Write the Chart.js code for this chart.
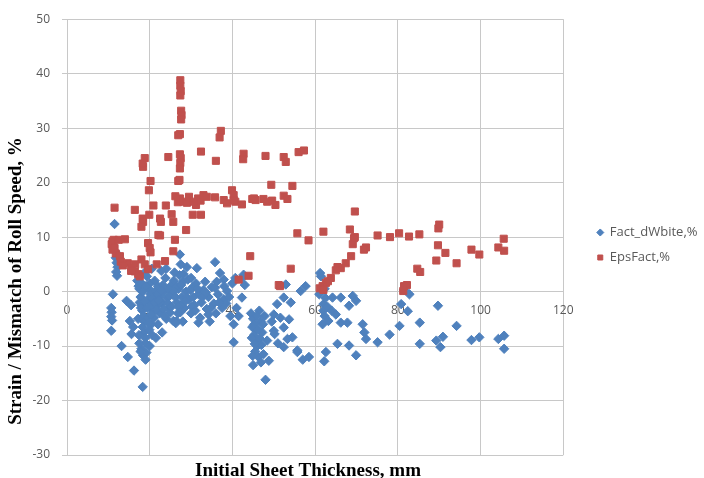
<!DOCTYPE html>
<html>
<head>
<meta charset="utf-8">
<script src="https://cdn.jsdelivr.net/npm/chart.js@4"></script>
<style>
html, body { margin: 0; padding: 0; background: #fff; }
</style>
</head>
<body>
<canvas id="myChart" width="704" height="478"></canvas>
<script>
// ticks
const xTicks = [0, 20, 40, 60, 80, 100, 120];
const yTicks = [-30, -20, -10, 0, 10, 20, 30, 40, 50];

const tituloX = 'Initial Sheet Thickness, mm';
const tituloY = 'Strain / Mismatch of Roll Speed, %';

// Fact_dWbite,%  [thickness, value]
const factPts = [
    [11.5,12.4],[11.8,7.2],[11.8,6.2],[12,5.3],[12.2,4.5],[11.9,3.6],[12.1,2.9],[11.1,-0.5],
    [10.7,-3],[10.8,-3.8],[10.7,-4.6],[10.9,-5.3],[10.7,-7.2],[13.2,-10],[14.7,-12],[16.2,-14.5],[18.3,-17.5],
    [14.4,-1.7],[15.2,-5.4],[15.6,-7.8],[16,-6.5],[15.5,-2.5],
    [17,2],[17.5,0.5],[17.8,-1],[18,-2.5],[18.2,-3.5],[18.5,-4.5],[18.7,-5.5],[18.3,-6.5],[18.6,-7.5],[18.9,-8.5],
    [19,-9.5],[18,-10.5],[18.4,-11.7],[19.2,-11.2],[17.8,-11],
    [19.5,-1.5],[19.8,0.5],[20,1.5],[20.2,-0.5],[20.5,-2.2],[20.8,-3.5],[19.6,-4.8],[20.4,-6],[19.9,-7],[20.6,-8],
    [17.2,-5],[17.4,-8],[19.3,2.8],[18.8,3.5],
    [21,-1],[21.5,0.2],[21.2,2],[22,1],[22.5,-0.8],[21.8,-2.5],[22.4,-4],[23,-2],[23.5,0],[23.8,2.5],[24.2,-1.2],
    [24.6,-3],[24.9,-3.9],[25,1],[25.5,-0.5],[25.7,-5.4],[26.5,-5.4],[26.3,-5.8],[26.5,-2],[27,0.5],
    [27.3,6.8],[27.5,5],[27.2,3],[27.8,-1],[28,1.8],[28.4,-3],[28.8,0],[29,-1.1],[29.2,2.2],[29.5,-1.5],[30,-4],
    [30.4,0.8],[30.8,-2.5],[31.4,4.3],[31.2,1.5],[31.8,-0.5],[31.8,-5.7],[32.2,-4.8],[32.5,-2],[33,0.3],[33.4,1.8],
    [33.8,-3.2],[34.2,-4.2],[34.2,-1],[34.5,-5.5],[35,0.8],[35.8,5.4],[35.8,0.7],[35.5,-2.2],[36,-4],[36.5,-0.5],
    [37,3.4],[37.5,-3],[37.9,2.2],[37.9,-1.4],[38.5,-2.2],[38.7,0.1],[39.5,-4.5],[40,1.5],[40.3,-6],[40.3,-9.3],
    [40.7,2.5],[41,-3],[41.5,-4.5],[42.3,-1.1],[42.3,2.5],[42.7,3.1],[43,1.2],
    [26,3.5],[24,4.2],[22.8,3.8],[20.5,4.2],[29,4.5],[28,-5.5],[26.8,-4],[24,-5],[22,-6],[23,-7.5],[21.5,-8.5],
    [22.5,-2],[23.2,1.2],[25.8,2],[26.6,1],[28.2,3.2],[30,2.5],[30.5,-1],[27.5,-2.5],[24.5,0.5],[21,-4.8],[20,-10],
    [19,-12.5],[17.5,-9.5],
    [17.3,1],[17.6,-2],[17.9,-3],[18.1,1.5],[18.4,0],[18.8,-1.8],[19.1,1],[19.4,-3],[19.7,-5.8],[20.3,-4.2],
    [20.7,-1.2],[21.3,-2],[21.6,-3.3],[21.9,-0.5],[22.2,-1.6],[22.8,0.2],[23.3,-3.2],[23.6,-4.5],[24.4,-2.2],
    [24.8,-0.8],[25.2,-2.8],[25.9,0],[26.2,-1],[26.9,-2.8],[27.4,-3.8],[27.6,1.2],[28.6,-1.8],[29.8,0.3],
    [30.2,-2.8],[31,-3.5],[31.6,0.5],[32.8,-1],[33.6,-0.2],[34.8,-3],[36.2,1.8],[36.8,-2],[39.2,-1],[38,1],
    [44.5,-4],[45,-5],[45.3,-6],[45.6,-7],[45.2,-8],[45.8,-9],[46,-10],[45.5,-11],[46.3,-12],[45,-13.5],[46.8,-5.5],
    [47.2,-7.5],[47,-9.8],[47.5,-11.5],[44.8,-6.5],[48,-16.2],[48.4,-9],[48.8,-12.7],[46.5,-3.5],[47.8,-4.5],
    [44.7,-8.5],[45.9,-4.5],[46.2,-7],[46.6,-8.6],[47.4,-6],[44.9,-11.8],[46.9,-13],[45.4,-9.6],
    [50,-7.2],[51.6,-4.8],[50.8,-2.3],[52.4,-1.1],[52.9,1.3],[54.1,-2],[53.7,-5.1],[54.5,-8.4],[52.4,-10.2],
    [55.7,-11.1],[56.5,0.1],[57.7,1],[61.4,2.8],[61,-0.5],[62,-2.3],[62,-3.5],[62.3,-4.5],[61.8,-6],[62.6,-11.1],
    [50,-4.2],[49.5,-5.5],[50.2,-7.8],[52.4,-6.6],[53.3,-8.7],[55.7,-10.8],[58.5,-12],[57,-12.5],[62.2,-12.8],[51,-9.5],
    [61.2,3.4],[62.3,0.5],[62.5,-1.2],[63,-2.8],[63.2,-5.4],[64.2,-1.1],[66.2,-1.1],[69.1,-0.8],[69.9,-1.7],
    [68.2,-2.6],[66.2,-5.7],[67.8,-5.7],[71.5,-6],[71.9,-7.5],[72.3,-8.7],[75.1,-9.3],[78,-7.9],[80.4,-6.3],
    [80.8,-2.3],[82.4,-3.6],[82.8,-0.5],[81.5,0.3],[85.3,-5.7],[85.3,-9.6],[89.7,-2.6],[89.3,-9],[90.9,-8.3],
    [90.3,-10.2],[94.2,-6.3],[97.8,-8.9],[99.7,-8.4],[104.3,-8.7],[105.7,-8.1],[105.7,-10.5],[65.4,-9.6],
    [68.2,-9.9],[69.9,-11.7],[64,-3.5],[65,-4.2]
];

// EpsFact,%  [thickness, value]
const epsPts = [
    [10.8,8.7],[11,7.7],[11.3,9.5],[11.8,7],[11,9.2],[11.5,8],[11.5,15.4],[12.5,9.5],[12.8,6.5],[13,5.5],[14,9.6],
    [14.7,5.2],[15.6,4.3],[16.4,3.7],[17.2,3.2],[17.6,2.8],[18,5.9],[18.8,5],[19.6,4.1],[16.4,15],[16.5,5],
    [15.5,3.8],[13.5,4.8],
    [18.3,13.4],[18.4,12.8],[18,11.9],[19.9,14.1],[20.9,15.8],[19.8,18.6],[20.2,20.3],[18.4,22.9],[18.8,24.5],
    [18.3,23.5],[19.6,8.9],[20,8],[20.2,7.2],[21.7,5],[22.5,10.3],[22.1,10.4],[22.5,13.4],[22.7,12.8],[23.9,15.8],
    [25.3,14.2],[25.7,12.8],[23.7,5.6],[25.7,7.4],[26.1,9.5],[28.8,11.3],[24.5,24.7],
    [27.4,38.8],[27.4,37.8],[27.5,36.8],[27.4,36],[27.6,33.2],[27.7,32.4],[27.6,31.6],[27.3,28.9],[26.9,28.7],
    [27.3,25.2],[27.5,24.5],[27.4,23.6],[27.3,22.6],[26.9,20.3],[27.2,20.5],
    [26.2,17.5],[26.8,16.4],[27.3,17.1],[28.1,16.5],[29,16.3],[29.5,17.4],[30.5,16.5],[31.2,15.9],[31.7,17.1],
    [32.3,16.7],[33,17.7],[33.8,17.4],[30.4,14.1],[32.4,14.1],[35.8,17.3],[37.9,16.8],[38.7,16.2],[39.9,18.6],
    [40.3,17.7],[40.7,16.5],[40.3,16.8],[42.3,16],[44.8,17],[45.2,17.1],[45.6,16.8],[47.5,17],[48.4,16.5],
    [49.6,16.7],[50.4,15.9],[52.4,17.6],[53.3,17],
    [32.4,25.7],[36,24],[37.2,29.5],[36.9,28.3],[42.7,25.3],[42.6,24.3],[48,24.9],[52.4,24.7],[52.9,23.8],
    [56,25.6],[57.3,25.9],[49.4,19.6],[54.5,19.4],
    [55.7,10.7],[58.4,9.4],[62,11],[68.4,11.4],[69.6,14.7],[69.6,10],[69.4,9.8],[69.1,8.7],[72.3,8.1],[71.8,7.7],
    [75.1,10.3],[78.1,10],[80.3,10.7],[82.7,10.1],[85.2,10.5],[89.8,11.6],[90,12.3],[89.7,8.5],[91.5,7.1],
    [94.2,5.2],[97.8,7.7],[99.7,6.8],[104.3,8.1],[105.7,7.5],[105.6,9.7],[89.3,5.7],[84.7,4.2],[85.4,3.6],
    [81.5,1],[82.2,1.2],[81.3,0.1],
    [44.3,6.5],[54.1,4.2],[51.2,1.2],[51.5,1],[41.5,2.2],[43.9,2.9],
    [68.7,6.5],[67.4,5.2],[66.2,4.3],[65.4,4.5],[65,3.9],[63.8,2.5],[63.1,1.9],[62.6,1.6],[61.8,1],[61.1,0.6],[62,0.3]
];

const gris = '#c8c8c8';
const textoGris = '#595959';

function aPuntos(lista){
    return lista.map(function(p){ return { x: p[0], y: p[1] }; });
}

// axis titles drawn in serif bold like the original
const titulosEjes = {
    id: 'titulosEjes',
    afterDraw(chart){
        let ctx = chart.ctx;
        ctx.save();
        ctx.fillStyle = '#000';
        ctx.font = 'bold 19px "Liberation Serif", "Times New Roman", serif';
        ctx.textAlign = 'center';
        ctx.textBaseline = 'alphabetic';
        ctx.fillText(tituloX, 308, 476);
        ctx.translate(21, 281);
        ctx.rotate(-Math.PI / 2);
        ctx.fillText(tituloY, 0, 0);
        ctx.restore();
    }
};

// push the legend a bit away from the plot
const moverLeyenda = {
    id: 'moverLeyenda',
    afterLayout(chart){
        let l = chart.legend;
        l.left += 22; l.right += 22;
        l.top += 9.5; l.bottom += 9.5;
    }
};

let ctx = document.getElementById('myChart');
let myChart = new Chart(ctx, {
    type: 'scatter',
    data: {
        datasets: [{
            label: 'Fact_dWbite,%',
            data: aPuntos(factPts),
            pointStyle: 'rectRot',
            pointRadius: 4.7,
            backgroundColor: '#4F81BD',
            borderColor: '#4F81BD',
            borderWidth: 1,
            order: 1
        }, {
            label: 'EpsFact,%',
            data: aPuntos(epsPts),
            pointStyle: 'rect',
            pointRadius: 5,
            backgroundColor: '#C0504D',
            borderColor: '#C0504D',
            borderWidth: 1,
            order: 0
        }]
    },
    options: {
        responsive: false,
        animation: false,
        layout: { padding: { left: 0, right: 18.5, top: 16, bottom: 23 } },
        scales: {
            x: {
                type: 'linear',
                min: 0,
                max: 120,
                position: { y: 0 },
                afterBuildTicks: function(s){ s.ticks = xTicks.map(function(v){ return { value: v }; }); },
                afterFit: function(s){ s.height = 0; },
                grid: { color: gris, drawTicks: false },
                border: { color: gris },
                ticks: { color: textoGris, padding: 12, font: { family: '"Open Sans"', size: 12 } }
            },
            y: {
                type: 'linear',
                min: -30,
                max: 50,
                afterBuildTicks: function(s){ s.ticks = yTicks.map(function(v){ return { value: v }; }); },
                afterFit: function(s){ s.width = 67; },
                grid: { color: gris, tickLength: 5 },
                border: { color: gris },
                ticks: { color: textoGris, padding: 12, font: { family: '"Open Sans"', size: 12 } }
            }
        },
        plugins: {
            tooltip: { enabled: false },
            legend: {
                position: 'right',
                labels: {
                    usePointStyle: true,
                    boxWidth: 6,
                    boxHeight: 5,
                    padding: 12,
                    color: textoGris,
                    font: { family: '"Open Sans"', size: 13 },
                    sort: function(a, b){ return a.datasetIndex - b.datasetIndex; }
                }
            }
        }
    },
    plugins: [titulosEjes, moverLeyenda]
});
</script>
</body>
</html>
